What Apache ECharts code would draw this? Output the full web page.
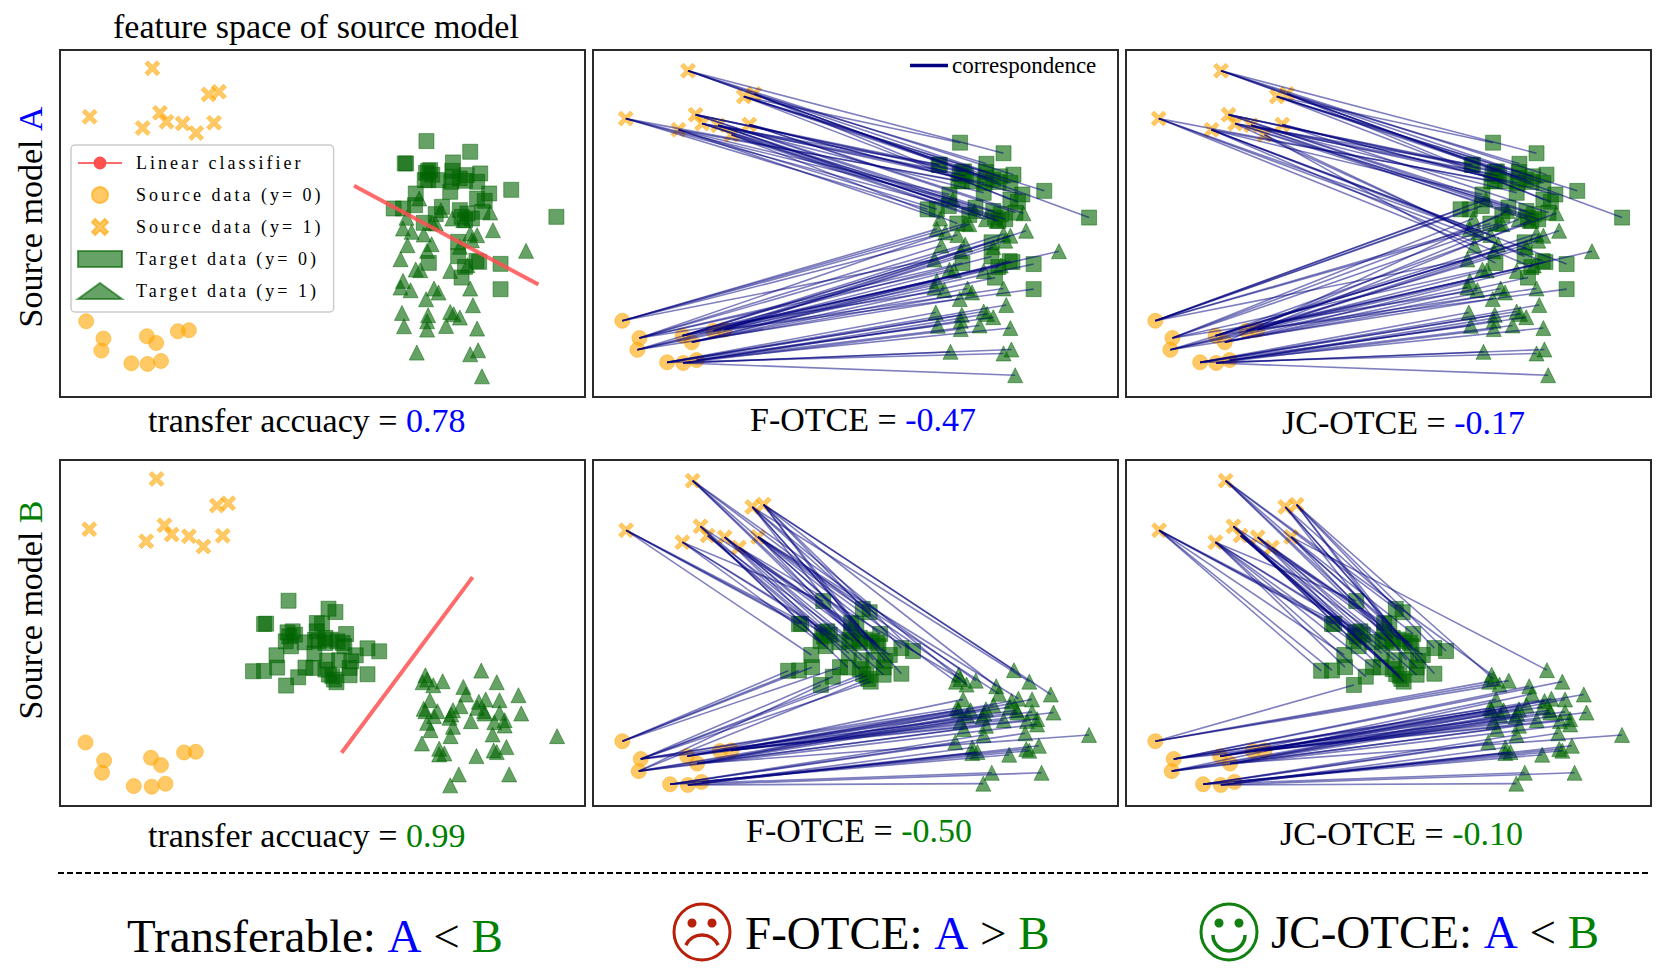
<!DOCTYPE html>
<html>
<head>
<meta charset="utf-8">
<title>feature space of source model</title>
<script src="https://cdn.jsdelivr.net/npm/echarts@6/dist/echarts.min.js"></script>
<style>
  html, body { margin: 0; padding: 0; background: #fff; }
  #main { width: 1663px; height: 972px; }
</style>
</head>
<body>
<div id="main"></div>
<script>
// source points, shared by all the panels (index 0-9 circles, 10-19 crosses in the couplings)
const sourceCirclesA = [[106,843],[156,895],[150,931],[282,888],[309,908],[372,873],[404,870],[237,969],[284,971],[323,962]];
const sourceCrossesA = [[298,85],[461,163],[491,155],[116,230],[320,218],[339,245],[386,250],[270,264],[425,279],[477,248]];
const sourceCirclesB = [[104,879],[158,933],[152,970],[294,925],[323,947],[390,909],[424,907],[244,1010],[296,1012],[336,1003]];
const sourceCrossesB = [[310,87],[485,167],[518,160],[115,238],[333,226],[354,254],[404,259],[280,274],[446,290],[502,258]];

const targetSquaresA = [[1093,303],[1220,335],[1030,370],[1034,370],[1170,367],[1249,400],[1339,449],[1470,530],[1098,392],[1104,390],[1092,398],[1110,404],
  [1088,420],[1098,420],[1128,420],[1168,392],[1170,410],[1165,425],[1190,415],[1210,405],[1205,422],[1240,425],[1062,460],[1162,455],
  [1275,460],[1240,475],[1262,482],[1060,495],[998,505],[1025,505],[1120,522],[1138,500],[1190,510],[1212,520],[1225,535],[1255,515],
  [1085,548],[1205,540],[1195,530],[1185,605],[1185,648],[1100,668],[1238,662],[1246,665],[1308,671],[1205,680],[1195,712],[1308,747]];
const targetTrianglesA = [[1072,475],[1035,533],[1025,565],[1050,575],[1085,583],[1110,548],[1120,550],[1135,510],[1168,535],[1200,540],[1278,517],[1286,570],
  [1240,585],[1220,580],[1038,615],[1108,612],[1095,632],[1018,657],[1382,632],[1062,688],[1075,690],[1162,692],[1212,675],[1025,722],
  [1018,742],[1047,750],[1115,745],[1128,757],[1092,777],[1220,745],[1228,795],[1022,818],[1098,825],[1095,843],[1162,815],[1172,822],
  [1190,832],[1028,858],[1095,868],[1150,857],[1240,865],[1065,937],[1220,942],[1243,930],[1254,1008],[1190,620],[1225,600]];
const targetSquaresB = [[693,453],[809,477],[829,487],[622,523],[628,522],[775,520],[790,522],[775,545],[860,553],[690,548],[705,545],[712,555],
  [695,560],[685,575],[700,590],[740,578],[770,570],[780,575],[800,565],[815,570],[835,575],[850,580],[855,590],[922,596],
  [956,605],[888,617],[658,617],[768,612],[805,633],[840,632],[875,635],[870,655],[590,665],[622,664],[660,654],[742,654],
  [765,655],[800,660],[870,677],[922,674],[721,683],[686,708],[810,675],[820,680],[825,690],[832,698],[800,580]];
const targetTrianglesB = [[1252,663],[1090,677],[1095,690],[1082,698],[1140,695],[1113,707],[1297,698],[1200,712],[1208,735],[1360,737],[1103,752],[1192,770],
  [1265,750],[1245,757],[1305,752],[1085,778],[1090,785],[1125,785],[1170,782],[1165,795],[1240,775],[1260,785],[1262,792],[1368,792],
  [1115,800],[1160,805],[1305,790],[1095,820],[1222,815],[1290,818],[1320,812],[1320,828],[1170,832],[1105,842],[1163,860],[1285,855],
  [1472,860],[1080,882],[1130,898],[1145,912],[1130,915],[1238,920],[1325,893],[1288,903],[1297,908],[1187,975],[1333,975],[1162,1008]];

const classifierA = [[883,437],[1418,733]];
const classifierB = [[847,910],[1227,382]];

// couplings: which source point each target point is matched with (squares then triangles)
const couplingFA = [11,10,14,15,12,10,11,12,14,14,16,15,13,17,19,11,10,16,11,10,10,11,17,16,19,12,11,13,13,17,18,14,14,15,16,19,18,16,15,5,3,1,4,5,6,3,4,6,
  13,17,0,0,0,0,1,18,15,16,19,6,3,3,1,1,2,0,5,1,2,4,3,2,2,1,4,4,2,3,7,7,7,8,7,8,9,7,8,9,9,8,7,8,8,5,6];
const couplingJA = [11,10,14,15,12,10,11,12,14,14,16,15,13,17,19,11,10,16,11,10,10,11,17,16,19,12,11,0,0,0,1,14,14,15,16,19,0,16,15,3,15,18,13,5,17,17,4,6,
  0,1,17,13,17,0,1,4,5,6,3,6,3,3,13,18,2,0,5,1,2,4,3,2,2,1,4,4,2,3,7,7,7,8,7,8,9,7,8,9,9,8,7,8,8,5,6];
const couplingFB = [17,10,11,13,13,14,10,16,19,13,17,17,15,14,17,14,15,16,10,12,11,18,19,12,12,16,13,15,16,11,12,19,0,0,0,0,14,16,18,11,1,2,1,1,2,1,10,
  12,19,18,19,10,11,11,12,19,12,3,5,19,3,4,1,1,3,3,4,5,6,1,6,2,2,3,4,5,6,1,2,4,2,7,7,4,7,8,9,8,7,8,9,7,7,8,8];
const couplingJB = [17,10,11,13,13,14,10,16,19,13,17,17,15,14,17,14,15,16,10,12,11,18,19,12,12,16,13,15,16,11,12,19,13,13,17,17,14,15,18,11,17,0,15,14,14,16,10,
  19,10,12,0,0,0,1,1,2,3,3,5,1,3,4,1,1,3,3,4,5,6,1,6,2,2,3,4,5,6,1,2,4,2,7,7,4,7,8,9,8,7,8,9,7,7,8,8];

const modelNames = ['A', 'B'];
const accuracyScores = ['0.78', '0.99'];
const fOtceScores = ['-0.47', '-0.50'];
const jcOtceScores = ['-0.17', '-0.10'];

const ORANGE = '#ffa500';
const GREEN = '#006400';
const NAVY = '#000080';
const BLUE = '#0000ff';
const LABEL_GREEN = '#008000';
const SERIF = '"Liberation Serif", "Times New Roman", serif';
const CROSS = 'path://M2 0L5 3L8 0L10 2L7 5L10 8L8 10L5 7L2 10L0 8L3 5L0 2Z';

const LEGEND_NAMES = ['Linear classifier', 'Source data (y= 0)', 'Source data (y= 1)', 'Target data (y= 0)', 'Target data (y= 1)'];

// one entry per panel
const panels = [
  { left: 60, right: 585, top: 50, bottom: 397, xr: [30, 1553], yr: [30, 1070], set: 'A', line: classifierA },
  { left: 593, right: 1118, top: 50, bottom: 397, xr: [20.3, 1554.5], yr: [22, 1074], set: 'A', coupling: couplingFA },
  { left: 1126, right: 1651, top: 50, bottom: 397, xr: [20.3, 1554.5], yr: [22, 1074], set: 'A', coupling: couplingJA },
  { left: 60, right: 585, top: 460, bottom: 806, xr: [30, 1553], yr: [30, 1070], set: 'B', line: classifierB },
  { left: 593, right: 1118, top: 460, bottom: 806, xr: [18, 1557], yr: [24.3, 1076], set: 'B', coupling: couplingFB },
  { left: 1126, right: 1651, top: 460, bottom: 806, xr: [18, 1557], yr: [24.3, 1076], set: 'B', coupling: couplingJB }
];

const dataSets = {
  A: { circles: sourceCirclesA, crosses: sourceCrossesA, squares: targetSquaresA, triangles: targetTrianglesA },
  B: { circles: sourceCirclesB, crosses: sourceCrossesB, squares: targetSquaresB, triangles: targetTrianglesB }
};

function scatter(name, i, data, symbol, color) {
  return {
    name, type: 'scatter', xAxisIndex: i, yAxisIndex: i, data, symbol, symbolSize: 15,
    itemStyle: { color, opacity: 0.6, borderColor: color, borderWidth: 0.8 }, z: 2, silent: true
  };
}

const grids = [], xAxes = [], yAxes = [], series = [];
panels.forEach((p, i) => {
  grids.push({
    show: true, left: p.left, top: p.top, width: p.right - p.left, height: p.bottom - p.top,
    borderColor: '#2a2a2a', borderWidth: 2, backgroundColor: '#fff'
  });
  xAxes.push({ type: 'value', gridIndex: i, min: p.xr[0], max: p.xr[1], show: false });
  yAxes.push({ type: 'value', gridIndex: i, min: p.yr[0], max: p.yr[1], inverse: true, show: false });

  const d = dataSets[p.set];
  series.push(scatter(LEGEND_NAMES[1], i, d.circles, 'circle', ORANGE));
  series.push(scatter(LEGEND_NAMES[2], i, d.crosses, CROSS, ORANGE));
  series.push(scatter(LEGEND_NAMES[3], i, d.squares, 'rect', GREEN));
  series.push(scatter(LEGEND_NAMES[4], i, d.triangles, 'triangle', GREEN));

  if (p.line) {
    series.push({
      name: LEGEND_NAMES[0], type: 'line', xAxisIndex: i, yAxisIndex: i, data: p.line, symbol: 'none',
      lineStyle: { color: '#ff5050', width: 4, opacity: 0.85 }, itemStyle: { color: '#ff5050' }, z: 3, silent: true
    });
  }
  if (p.coupling) {
    // 线条从 source 连到 target
    const sources = d.circles.concat(d.crosses);
    const targets = d.squares.concat(d.triangles);
    series.push({
      name: 'correspondence', type: 'lines', coordinateSystem: 'cartesian2d', xAxisIndex: i, yAxisIndex: i,
      data: targets.map((t, k) => ({ coords: [sources[p.coupling[k]], t] })),
      lineStyle: { color: NAVY, width: 1.6, opacity: 0.5, curveness: 0 }, itemStyle: { color: NAVY }, z: 4, silent: true
    });
  }
});

const richText = {
  k: { fontFamily: SERIF, fontSize: 34, fill: '#000' },
  blue: { fontFamily: SERIF, fontSize: 34, fill: BLUE },
  green: { fontFamily: SERIF, fontSize: 34, fill: LABEL_GREEN },
  K: { fontFamily: SERIF, fontSize: 47, fill: '#000' },
  BLUE: { fontFamily: SERIF, fontSize: 47, fill: BLUE },
  GREEN: { fontFamily: SERIF, fontSize: 47, fill: LABEL_GREEN }
};

function label(text, x, y, extra) {
  return Object.assign({
    type: 'text', x, y, silent: true,
    style: { text, rich: richText, align: 'left', verticalAlign: 'middle' }
  }, extra || {});
}

const tones = ['blue', 'green'];
const graphics = [
  label('{k|feature space of source model}', 113, 26),
  label('{k|Source model }{blue|' + modelNames[0] + '}', 30, 217, { rotation: Math.PI / 2, style: { text: '{k|Source model }{blue|' + modelNames[0] + '}', rich: richText, align: 'center', verticalAlign: 'middle' } }),
  label('{k|Source model }{green|' + modelNames[1] + '}', 30, 610, { rotation: Math.PI / 2, style: { text: '{k|Source model }{green|' + modelNames[1] + '}', rich: richText, align: 'center', verticalAlign: 'middle' } }),
  label('{k|transfer accuacy = }{' + tones[0] + '|' + accuracyScores[0] + '}', 148, 420),
  label('{k|F-OTCE = }{' + tones[0] + '|' + fOtceScores[0] + '}', 750, 419),
  label('{k|JC-OTCE = }{' + tones[0] + '|' + jcOtceScores[0] + '}', 1282, 422),
  label('{k|transfer accuacy = }{' + tones[1] + '|' + accuracyScores[1] + '}', 148, 835),
  label('{k|F-OTCE = }{' + tones[1] + '|' + fOtceScores[1] + '}', 746, 830),
  label('{k|JC-OTCE = }{' + tones[1] + '|' + jcOtceScores[1] + '}', 1280, 833),
  label('{K|Transferable: }{BLUE|A}{K| < }{GREEN|B}', 127, 936),
  label('{K|F-OTCE: }{BLUE|A}{K| > }{GREEN|B}', 745, 933),
  label('{K|JC-OTCE: }{BLUE|A}{K| < }{GREEN|B}', 1271, 932),
  { type: 'line', silent: true, shape: { x1: 58, y1: 873, x2: 1651, y2: 873 }, style: { stroke: '#000', lineWidth: 2, lineDash: [6, 3] } }
];

// 表情图标
function face(cx, cy, color, mouth) {
  return [
    { type: 'ellipse', silent: true, shape: { cx, cy, rx: 28, ry: 28 }, style: { fill: 'none', stroke: color, lineWidth: 3 } },
    { type: 'circle', silent: true, shape: { cx: cx - 10, cy: cy - 9, r: 4.5 }, style: { fill: color } },
    { type: 'circle', silent: true, shape: { cx: cx + 10, cy: cy - 9, r: 4.5 }, style: { fill: color } },
    { type: 'arc', silent: true, shape: mouth, style: { fill: 'none', stroke: color, lineWidth: 3.5 } }
  ];
}
graphics.push(...face(702, 932, '#b8200a', { cx: 702, cy: 953, r: 18, startAngle: -154 * Math.PI / 180, endAngle: -26 * Math.PI / 180, clockwise: true }));
graphics.push(...face(1229, 932, '#118011', { cx: 1229, cy: 935, r: 16, startAngle: 0, endAngle: Math.PI, clockwise: true }));

const chart = echarts.init(document.getElementById('main'), null, { renderer: 'svg' });

chart.setOption({
  animation: false,
  backgroundColor: '#fff',
  grid: grids,
  xAxis: xAxes,
  yAxis: yAxes,
  legend: [
    {
      orient: 'vertical', left: 71, top: 145, itemWidth: 44, itemHeight: 16, itemGap: 14,
      padding: [9, 64, 12, 6], borderColor: '#cccccc', borderWidth: 1.5, borderRadius: 4,
      backgroundColor: 'rgba(255,255,255,0.8)', selectedMode: false, z: 10,
      textStyle: { fontFamily: SERIF, fontSize: 18, color: '#000', padding: [0, 0, 0, 9] },
      data: [
        { name: LEGEND_NAMES[0] },
        { name: LEGEND_NAMES[1], icon: 'circle' },
        { name: LEGEND_NAMES[2], icon: CROSS },
        { name: LEGEND_NAMES[3], icon: 'rect' },
        { name: LEGEND_NAMES[4], icon: 'triangle' }
      ]
    },
    {
      left: 906, top: 50, itemWidth: 36, itemHeight: 1.5, selectedMode: false, padding: 4,
      textStyle: { fontFamily: SERIF, fontSize: 23, color: '#000' },
      data: [{ name: 'correspondence', icon: 'rect', itemStyle: { color: NAVY } }]
    }
  ],
  graphic: graphics,
  series
});

// 图例文字字距较宽，svg 里直接设置
function spaceLegendText() {
  document.querySelectorAll('#main text').forEach(t => {
    if (LEGEND_NAMES.includes(t.textContent)) t.setAttribute('letter-spacing', '3px');
  });
}
chart.on('finished', spaceLegendText);
spaceLegendText();
</script>
</body>
</html>
